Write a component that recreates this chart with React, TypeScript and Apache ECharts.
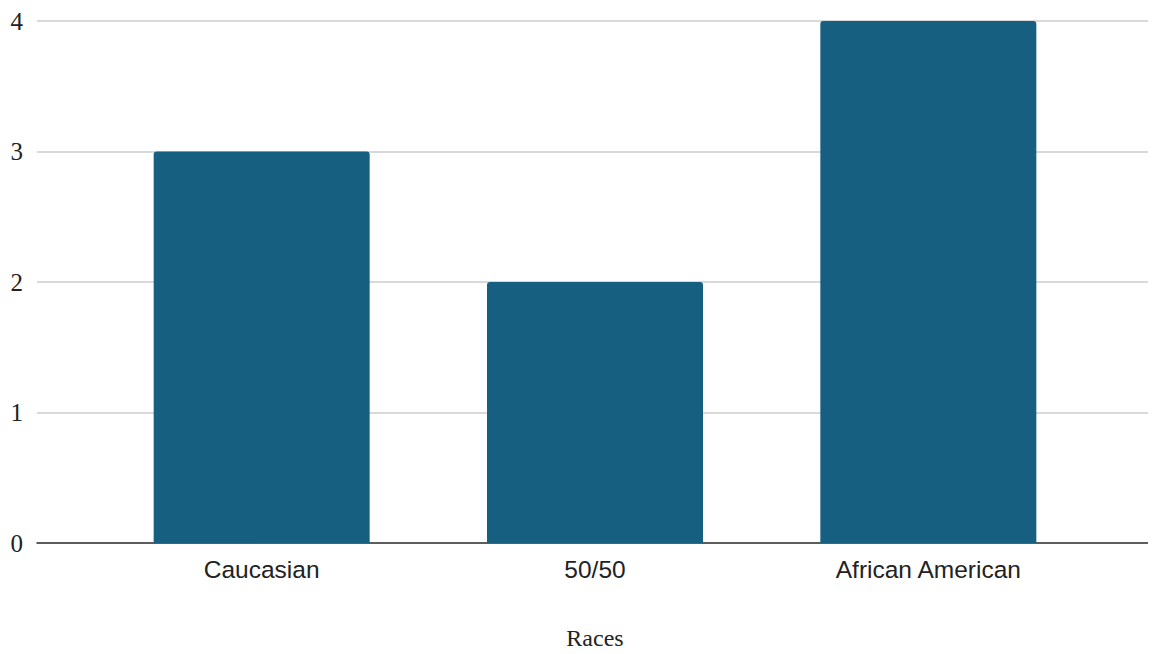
import React, { useEffect, useRef } from "react";
import * as echarts from "echarts";

const categories = ["Caucasian", "50/50", "African American"];
const counts = [3, 2, 4];
const yMin = 0;
const yMax = 4;
const yInterval = 1;
const xAxisTitle = "Races";

export default function App() {
  const ref = useRef<HTMLDivElement>(null);
  useEffect(() => {
    if (!ref.current) return;
    const chart = echarts.init(ref.current, undefined, { renderer: "svg" });
    chart.setOption({
      animation: false,
      backgroundColor: "#ffffff",
      grid: [
        { left: 37, right: 3, top: 21, height: 522, outerBoundsMode: "none", containLabel: false },
        { left: 95, width: 1000, top: 21, height: 522, outerBoundsMode: "none", containLabel: false },
      ],
      graphic: [
        {
          type: "text",
          x: 595,
          y: 638,
          style: {
            text: xAxisTitle,
            fontFamily: "Liberation Serif, Times New Roman, serif",
            fontSize: 24,
            fill: "#222222",
            textAlign: "center",
            textVerticalAlign: "middle",
          },
        },
      ],
      xAxis: [
        {
          gridIndex: 0,
          type: "category",
          data: [""],
          axisLine: { show: true, lineStyle: { color: "#333333", width: 1.5 } },
          axisTick: { show: false },
          axisLabel: { show: false },
          splitLine: { show: false },
        },
        {
          gridIndex: 1,
          type: "category",
          data: categories,
          axisLine: { show: false },
          axisTick: { show: false },
          axisLabel: {
            margin: 14,
            fontFamily: "Liberation Sans, Arial, sans-serif",
            fontSize: 24.5,
            color: "#222222",
          },
        },
      ],
      yAxis: [
        {
          gridIndex: 0,
          type: "value",
          min: yMin,
          max: yMax,
          interval: yInterval,
          axisLine: { show: false },
          axisTick: { show: false },
          axisLabel: {
            margin: 14,
            fontFamily: "Liberation Serif, Times New Roman, serif",
            fontSize: 25,
            color: "#222222",
          },
          splitLine: { show: true, lineStyle: { color: "#cccccc", width: 1.5 } },
        },
        {
          gridIndex: 1,
          type: "value",
          min: yMin,
          max: yMax,
          interval: yInterval,
          show: false,
        },
      ],
      series: [
        {
          type: "bar",
          xAxisIndex: 1,
          yAxisIndex: 1,
          data: counts,
          barWidth: 216,
          itemStyle: { color: "#175f80", borderRadius: [3, 3, 0, 0] },
        },
      ],
    });
    return () => chart.dispose();
  }, []);
  return <div ref={ref} style={{ width: 1156, height: 654, margin: -8 }} />;
}
